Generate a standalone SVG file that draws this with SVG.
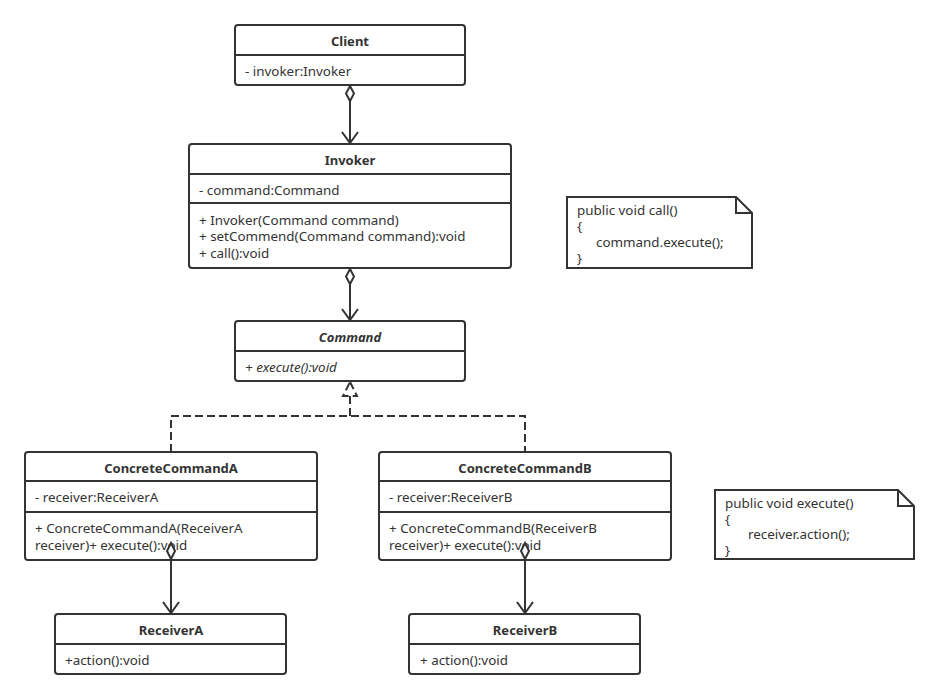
<svg xmlns="http://www.w3.org/2000/svg" width="939" height="699" viewBox="0 0 939 699">
<style>
.box{fill:#fff;stroke:#333;stroke-width:2}
.div{stroke:#333;stroke-width:2}
.t{font-family:"Noto Sans","Open Sans",sans-serif;font-size:13.4px;fill:#333}
.b{font-weight:bold;text-anchor:middle;font-size:13px}
.i{font-style:italic}
.ln{stroke:#333;stroke-width:2;fill:none}
.dash{stroke-dasharray:8 4}
.dia{fill:#fff;stroke:#333;stroke-width:2}
</style>
<rect width="939" height="699" fill="#fff"/>
<g id="client">
<rect class="box" x="235" y="25" width="230" height="60" rx="3"/>
<line class="div" x1="235" y1="55" x2="465" y2="55"/>
<text class="t b" x="350" y="45.5">Client</text>
<text class="t" x="245" y="75.5">- invoker:Invoker</text>
</g>
<g id="invoker">
<rect class="box" x="189" y="144" width="322" height="124" rx="3"/>
<line class="div" x1="189" y1="174" x2="511" y2="174"/>
<line class="div" x1="189" y1="203" x2="511" y2="203"/>
<text class="t b" x="350" y="164.5">Invoker</text>
<text class="t" x="199" y="194.5">- command:Command</text>
<text class="t" x="199" y="224.5">+ Invoker(Command command)</text>
<text class="t" x="199" y="241">+ setCommend(Command command):void</text>
<text class="t" x="199" y="257.5">+ call():void</text>
</g>
<g id="command">
<rect class="box" x="235" y="321" width="230" height="60" rx="3"/>
<line class="div" x1="235" y1="351" x2="465" y2="351"/>
<text class="t b i" x="350" y="341.5">Command</text>
<text class="t i" x="245" y="371.5">+ execute():void</text>
</g>
<g id="concreteCommandA">
<rect class="box" x="25" y="452" width="292" height="108" rx="3"/>
<line class="div" x1="25" y1="481" x2="317" y2="481"/>
<line class="div" x1="25" y1="512" x2="317" y2="512"/>
<text class="t b" x="171" y="472.5">ConcreteCommandA</text>
<text class="t" x="35" y="501.5">- receiver:ReceiverA</text>
<text class="t" x="35" y="533">+ ConcreteCommandA(ReceiverA</text>
<text class="t" x="35" y="549.5">receiver)+ execute():void</text>
</g>
<g id="concreteCommandB">
<rect class="box" x="379" y="452" width="292" height="108" rx="3"/>
<line class="div" x1="379" y1="481" x2="671" y2="481"/>
<line class="div" x1="379" y1="512" x2="671" y2="512"/>
<text class="t b" x="525" y="472.5">ConcreteCommandB</text>
<text class="t" x="389" y="501.5">- receiver:ReceiverB</text>
<text class="t" x="389" y="533">+ ConcreteCommandB(ReceiverB</text>
<text class="t" x="389" y="549.5">receiver)+ execute():void</text>
</g>
<g id="receiverA">
<rect class="box" x="55" y="614" width="231" height="60" rx="3"/>
<line class="div" x1="55" y1="644" x2="286" y2="644"/>
<text class="t b" x="171" y="634.5">ReceiverA</text>
<text class="t" x="65" y="664.5">+action():void</text>
</g>
<g id="receiverB">
<rect class="box" x="409" y="614" width="231" height="60" rx="3"/>
<line class="div" x1="409" y1="644" x2="640" y2="644"/>
<text class="t b" x="525" y="634.5">ReceiverB</text>
<text class="t" x="420" y="664.5">+ action():void</text>
</g>
<g id="note1">
<path class="box" d="M567,197 L736,197 L752,213 L752,268 L567,268 Z"/>
<path class="ln" d="M736,197 L736,213 L752,213"/>
<text class="t" x="577" y="214.5">public void call()</text>
<text class="t" x="577" y="230.5">{</text>
<text class="t" x="596" y="246.5">command.execute();</text>
<text class="t" x="577" y="262.5">}</text>
</g>
<g id="note2">
<path class="box" d="M715,490 L898,490 L914,506 L914,559 L715,559 Z"/>
<path class="ln" d="M898,490 L898,506 L914,506"/>
<text class="t" x="725" y="507.5">public void execute()</text>
<text class="t" x="725" y="523.5">{</text>
<text class="t" x="748" y="538.5">receiver.action();</text>
<text class="t" x="725" y="554.5">}</text>
</g>
<g id="connectors">
<line class="ln" x1="350" y1="101" x2="350" y2="143"/>
<path class="ln" d="M342,132 L350,143 L358,132"/>
<path class="dia" d="M350,86 L354,93.5 L350,101 L346,93.5 Z"/>
<line class="ln" x1="350" y1="284" x2="350" y2="320"/>
<path class="ln" d="M342,309 L350,320 L358,309"/>
<path class="dia" d="M350,269 L354,276.5 L350,284 L346,276.5 Z"/>
<path class="ln dash" d="M171,452 L171,416 L525,416 L525,452"/>
<line class="ln dash" x1="350" y1="416" x2="350" y2="396"/>
<path class="dia dash" d="M350,382 L357,396 L343,396 Z" stroke-dasharray="5 3"/>
<line class="ln" x1="171" y1="559" x2="171" y2="613"/>
<path class="ln" d="M163,602 L171,613 L179,602"/>
<path class="dia" d="M171,543 L175,551 L171,559 L167,551 Z"/>
<line class="ln" x1="525" y1="559" x2="525" y2="613"/>
<path class="ln" d="M517,602 L525,613 L533,602"/>
<path class="dia" d="M525,543 L529,551 L525,559 L521,551 Z"/>
</g>
</svg>
